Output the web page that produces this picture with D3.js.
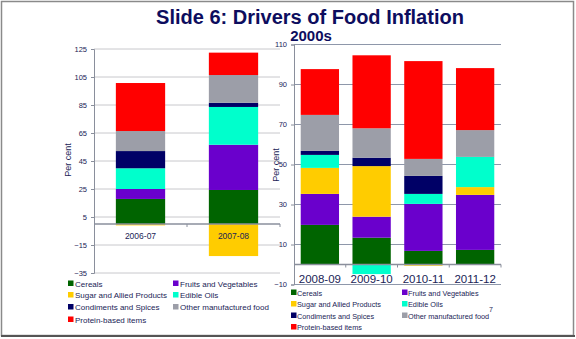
<!DOCTYPE html>
<html><head><meta charset="utf-8">
<script src="https://cdn.jsdelivr.net/npm/d3@7"></script>
<style>body{margin:0;background:#fff}svg{display:block;font-family:"Liberation Sans",Arial,sans-serif}</style>
</head><body><svg id="c" width="576" height="339"></svg>
<script>
const periods = ["2006-07","2007-08","2008-09","2009-10","2010-11","2011-12"];
const seriesNames = ["Cereals","Fruits and Vegetables","Sugar and Allied Products","Edible Oils","Condiments and Spices","Other manufactured food","Protein-based items"];
const seriesColors = ["#006400","#6a00cc","#ffcc00","#00ffcc","#000066","#9c9ea8","#ff0000"];
const cereals    = [17.9, 24.3, 19.8, 13.4, 6.8, 7.3];
const fruits     = [7.1, 32.3, 15.5, 10.5, 23.5, 27.5];
const sugar      = [-1.0, -22.9, 13.0, 25.3, -0.6, 3.9];
const oils       = [14.8, 27.0, 6.5, -4.8, 5.0, 15.1];
const condiments = [12.3, 3.0, 2.0, 4.2, 9.0, 0];
const otherFood  = [14.3, 19.8, 18.0, 14.7, 8.5, 13.4];
const protein    = [34.3, 16.0, 22.9, 36.5, 48.9, 31.0];
const leftTicks  = [125,105,85,65,45,25,5,-15,-35];
const rightTicks = [110,90,70,50,30,10,-10];
const title = "Slide 6: Drivers of Food Inflation";
const subtitle = "2000s";

const seriesValues = [cereals, fruits, sugar, oils, condiments, otherFood, protein];
const rows = periods.map((p,i)=>{const r={period:p}; seriesNames.forEach((s,j)=>r[s]=seriesValues[j][i]); return r;});
const stack = d3.stack().keys(seriesNames).offset(d3.stackOffsetDiverging);

const svg = d3.select("#c");
const navy = "#1a2456";

// frame
svg.append("rect").attr("x",1.5).attr("y",1.5).attr("width",572).attr("height",334)
  .attr("fill","#fff").attr("stroke","#8a8a8a").attr("stroke-width",1.5);
svg.append("line").attr("x1",1).attr("x2",575).attr("y1",336).attr("y2",336).attr("stroke","#555").attr("stroke-width",2);

svg.append("text").attr("x",310).attr("y",24).attr("text-anchor","middle")
  .attr("font-size",20).attr("font-weight","bold").attr("fill","#0d0d5e").text(title);
svg.append("text").attr("x",311).attr("y",41).attr("text-anchor","middle")
  .attr("font-size",15).attr("font-weight","bold").attr("fill","#0d0d5e").text(subtitle);

function drawChart(cfg){
  const data = rows.slice(cfg.from, cfg.to);
  const x = d3.scaleBand().domain(data.map(d=>d.period)).range([cfg.x0,cfg.x1]).paddingInner(cfg.pad).paddingOuter(cfg.pad/2);
  const y = d3.scaleLinear().domain(cfg.domain).range([cfg.yb,cfg.yt]);
  const g = svg.append("g");
  // grid
  g.selectAll(".grid").data(cfg.ticks).join("line")
    .attr("x1",cfg.x0).attr("x2",cfg.x1).attr("y1",d=>y(d)).attr("y2",d=>y(d))
    .attr("stroke",cfg.gridColor).attr("stroke-width",1);
  // y axis
  const ya = g.append("g").attr("transform",`translate(${cfg.x0},0)`)
    .call(d3.axisLeft(y).tickValues(cfg.ticks).tickSize(3).tickPadding(4));
  ya.select(".domain").attr("stroke","#8a8f9c");
  ya.selectAll(".tick line").attr("stroke","#8a8f9c");
  ya.selectAll("text").attr("fill",navy).attr("font-size",cfg.tickFont).attr("font-family","Liberation Sans, Arial, sans-serif");
  // bars
  const st = stack(data);
  g.selectAll(".s").data(st).join("g").attr("fill",(d,i)=>seriesColors[i])
    .selectAll("rect").data(d=>d).join("rect")
    .attr("x",d=>x(d.data.period)).attr("width",x.bandwidth())
    .attr("y",d=>y(Math.max(d[0],d[1]))).attr("height",d=>Math.abs(y(d[0])-y(d[1])));
  // zero line
  g.append("line").attr("x1",cfg.x0).attr("x2",cfg.x1).attr("y1",y(0)).attr("y2",y(0))
    .attr("stroke","#8a8f9c").attr("stroke-width",1.5);
  d3.range(1,data.length+1).forEach(k=>{
    const xx = cfg.x0 + k*(cfg.x1-cfg.x0)/data.length;
    g.append("line").attr("x1",xx).attr("x2",xx).attr("y1",y(0)).attr("y2",y(0)+3).attr("stroke","#8a8f9c");
  });
  // category labels
  g.selectAll(".cat").data(data).join("text")
    .attr("x",d=>x(d.period)+x.bandwidth()/2).attr("y",cfg.catY).attr("text-anchor","middle")
    .attr("font-size",cfg.catFont).attr("fill",navy).text(d=>d.period);
  // y label
  g.append("text").attr("transform",`translate(${cfg.labX},${cfg.labY}) rotate(-90)`)
    .attr("text-anchor","middle").attr("font-size",9).attr("fill",navy).text("Per cent");
  // legend
  const lg = g.append("g");
  seriesNames.forEach((s,i)=>{
    const col = i===6 ? 0 : i%2, row = Math.floor(i/2);
    const lx = cfg.legX[col], ly = cfg.legY[row];
    lg.append("rect").attr("x",lx).attr("y",ly-3).attr("width",5.5).attr("height",5.5).attr("fill",seriesColors[i]);
    lg.append("text").attr("x",lx+cfg.legTextDx).attr("y",ly+3).attr("font-size",cfg.legFont).attr("fill",navy).text(s);
  });
}

drawChart({from:0,to:2,x0:94,x1:280,pad:0.47,domain:[-35,125],yb:273,yt:49,ticks:leftTicks,
  gridColor:"#c8c8cc",tickFont:7.5,catY:239,catFont:8.5,labX:71,labY:160,
  legX:[68,173],legY:[283.5,295,307,319.5],legTextDx:7,legFont:8});
drawChart({from:2,to:6,x0:294,x1:501,pad:0.26,domain:[-10,110],yb:284.5,yt:44.5,ticks:rightTicks,
  gridColor:"#8e97aa",tickFont:7.5,catY:283,catFont:11.5,labX:279,labY:165,
  legX:[291,402],legY:[292.5,304,315.5,327],legTextDx:6,legFont:7.3});

svg.append("text").attr("x",489).attr("y",312).attr("font-size",7).attr("fill",navy).text("7");
</script></body></html>
